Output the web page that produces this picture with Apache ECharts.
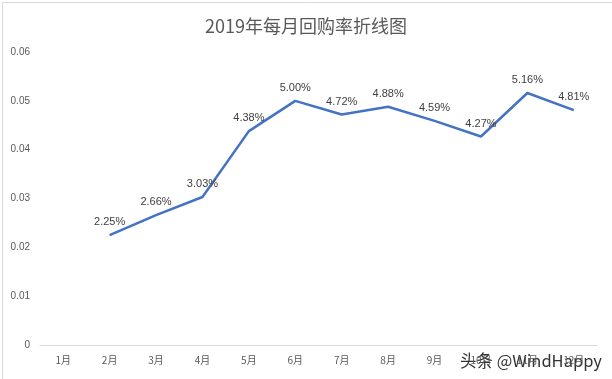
<!DOCTYPE html>
<html><head><meta charset="utf-8">
<script src="https://cdn.jsdelivr.net/npm/echarts@6/dist/echarts.min.js"></script>
<style>html,body{margin:0;padding:0;background:#fff}#c{width:612px;height:379px}</style>
</head><body><div id="c"></div>
<script>
const categories = ['1月','2月','3月','4月','5月','6月','7月','8月','9月','10月','11月','12月'];
const rates = [null, 0.0225, 0.0266, 0.0303, 0.0438, 0.0500, 0.0472, 0.0488, 0.0459, 0.0427, 0.0516, 0.0481];
const yTicks = [0, 0.01, 0.02, 0.03, 0.04, 0.05, 0.06];
const titleText = '2019年每月回购率折线图';
const watermark = '头条 @WindHappy';

const chart = echarts.init(document.getElementById('c'));
chart.setOption({
  animation: false,
  title: {text: titleText, left: 'center', top: 12, textStyle: {fontSize: 18, fontWeight: 'normal', color: '#595959', fontFamily: 'Noto Sans CJK SC'}},
  grid: {left: 40, right: 15, top: 52, bottom: 34},
  xAxis: {type: 'category', data: categories, boundaryGap: true,
    axisLine: {lineStyle: {color: '#d9d9d9'}}, axisTick: {show: false},
    axisLabel: {color: '#595959', fontSize: 10, margin: 10, fontFamily: 'Noto Sans CJK SC'}},
  yAxis: {type: 'value', min: yTicks[0], max: yTicks[yTicks.length-1], interval: 0.01,
    splitLine: {show: false}, axisLine: {show: false}, axisTick: {show: false},
    axisLabel: {color: '#595959', fontSize: 10, margin: 10, fontFamily: 'Liberation Sans',
      formatter: v => v === 0 ? '0' : v.toFixed(2)}},
  series: [{type: 'line', data: rates, symbol: 'circle', symbolSize: 1, showSymbol: true, connectNulls: false,
    itemStyle: {color: 'rgba(0,0,0,0)'},
    lineStyle: {color: '#4472C4', width: 2.5},
    label: {show: true, position: 'top', distance: 7, color: '#404040', fontSize: 11, fontFamily: 'Liberation Sans',
      formatter: p => (p.value * 100).toFixed(2) + '%'}}],
  graphic: [
    {type: 'rect', left: 0, top: 0, shape: {width: 611, height: 378}, style: {fill: 'none', stroke: '#d9d9d9', lineWidth: 1}},
    {type: 'text', left: 459, top: 351, style: {text: watermark, fill: '#333333', font: '16.5px "Noto Sans CJK SC"',
      stroke: '#ffffff', lineWidth: 2}}
  ]
});
</script></body></html>
